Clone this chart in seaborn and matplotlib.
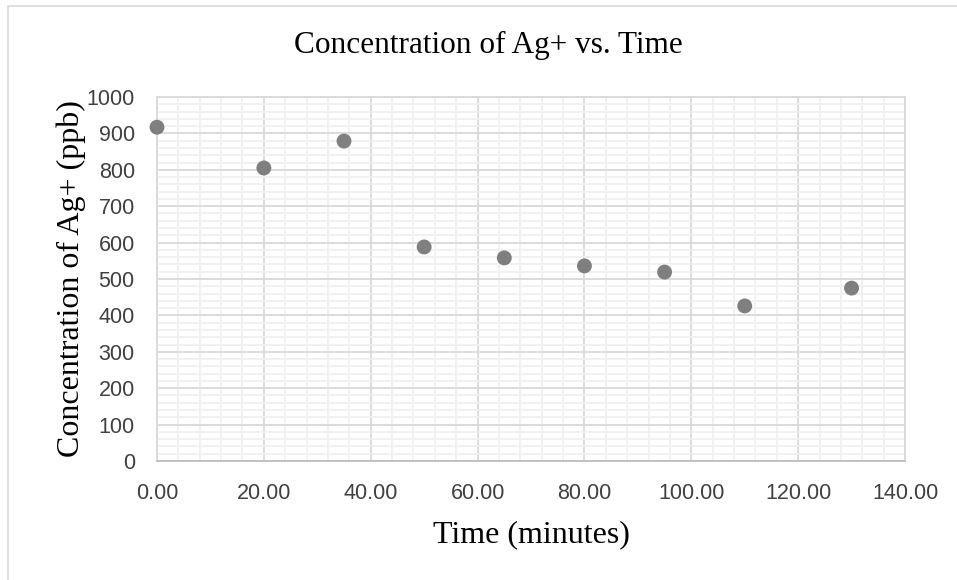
import matplotlib
matplotlib.use("Agg")
import matplotlib.pyplot as plt
import seaborn as sns
import pandas as pd
from matplotlib.ticker import MultipleLocator, FormatStrFormatter
from matplotlib.patches import Rectangle

time_min = [0, 20, 35, 50, 65, 80, 95, 110, 130]
conc_ppb = [917, 805, 879, 588, 558, 536, 519, 426, 475]

df = pd.DataFrame({"Time (minutes)": time_min, "Concentration of Ag+ (ppb)": conc_ppb})

sns.set_theme(style="white")
plt.rcParams["font.family"] = ["Liberation Sans", "DejaVu Sans"]

fig = plt.figure(figsize=(9.57, 5.8), dpi=100)
ax = fig.add_axes([157/957, 1-461/580, (905-157)/957, (461-97)/580])

# figure frame
fig.patches.append(Rectangle((8/957, -0.01), 1.0, 1 - 6/580 + 0.01, transform=fig.transFigure,
                             fill=False, edgecolor="#d9d9d9", linewidth=1.2))

sns.scatterplot(data=df, x="Time (minutes)", y="Concentration of Ag+ (ppb)", ax=ax,
                color="#7f7f7f", s=115, edgecolor="none", zorder=3, clip_on=False)

ax.set_xlim(0, 140)
ax.set_ylim(0, 1000)
ax.xaxis.set_major_locator(MultipleLocator(20))
ax.xaxis.set_minor_locator(MultipleLocator(4))
ax.yaxis.set_major_locator(MultipleLocator(100))
ax.yaxis.set_minor_locator(MultipleLocator(20))
ax.xaxis.set_major_formatter(FormatStrFormatter("%.2f"))

ax.grid(which="major", color="#d9d9d9", linewidth=1.3)
ax.grid(which="minor", color="#f0f0f0", linewidth=1.3)
ax.set_axisbelow(True)
for sp in ax.spines.values():
    sp.set_color("#d9d9d9")
    sp.set_linewidth(1.3)
ax.spines["bottom"].set_color("#bfbfbf")
ax.tick_params(which="both", length=0)
ax.tick_params(axis="x", labelsize=15.5, colors="#404040", pad=16)
ax.tick_params(axis="y", labelsize=15.5, colors="#404040", pad=16)

ax.set_xlabel("Time (minutes)", family="Liberation Serif", fontsize=23, color="black")
ax.set_ylabel("Concentration of Ag+ (ppb)", family="Liberation Serif", fontsize=23, color="black")
ax.xaxis.set_label_coords(0.5, -0.162)
ax.yaxis.set_label_coords(-0.095, 0.5)
fig.text(488/957, 1-45/580, "Concentration of Ag+ vs. Time", family="Liberation Serif",
         fontsize=22.5, ha="center", va="center", color="black")

fig.savefig("out.png", dpi=100, facecolor="white")
